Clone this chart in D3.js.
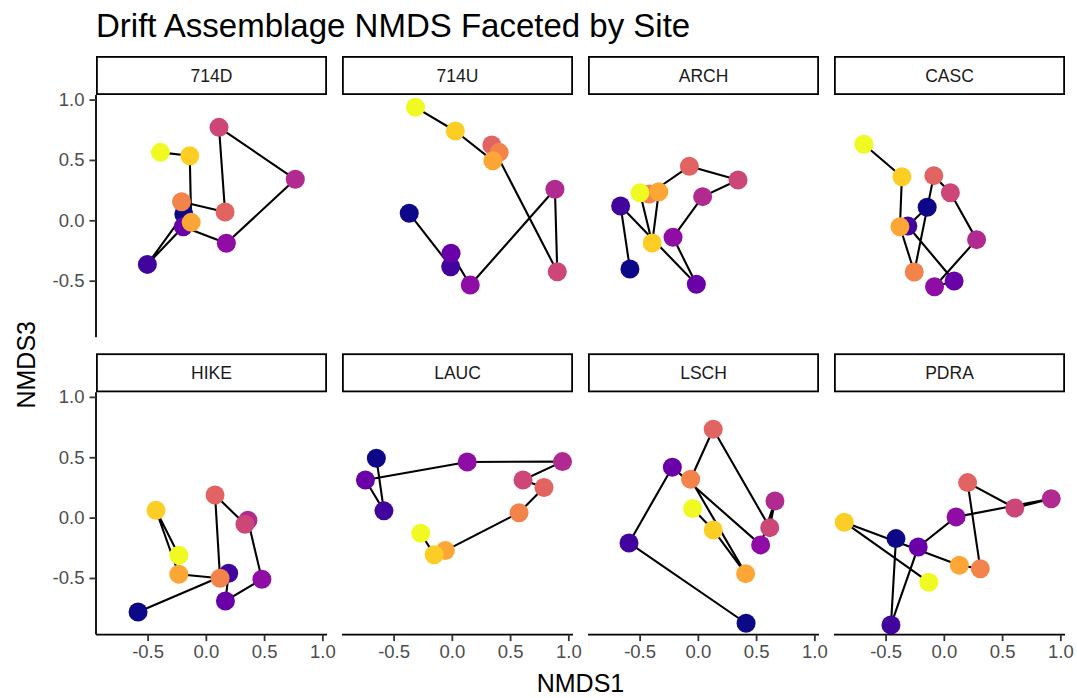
<!DOCTYPE html>
<html>
<head>
<meta charset="utf-8">
<script src="https://cdn.jsdelivr.net/npm/d3@7"></script>
<style>
  html, body { margin: 0; padding: 0; background: #fff; }
  svg { display: block; font-family: "Liberation Sans", Arial, Helvetica, sans-serif; }
</style>
</head>
<body>
<svg id="chart" width="1077" height="698"></svg>
<script>
// Sites, in facet order (row-wise, 4 columns)
const sites = ["714D", "714U", "ARCH", "CASC", "HIKE", "LAUC", "LSCH", "PDRA"];

// Sampling events 1..11, in time order (used for colour and path order)
const samples = [1, 2, 3, 4, 5, 6, 7, 8, 9, 10, 11];

// NMDS axis 1 scores per site, one value per sampling event
const nmds1 = [
  [-0.189, -0.502, -0.194, 0.176, 0.768, 0.113, 0.165, -0.209, -0.126, -0.138, -0.390],
  [-0.366, -0.010, -0.007, 0.158, 0.885, 0.905, 0.343, 0.406, 0.352, 0.030, -0.312],
  [-0.583, -0.663, -0.013, -0.213, 0.041, 0.345, -0.073, -0.418, -0.335, -0.392, -0.497],
  [-0.143, -0.309, 0.088, -0.080, 0.281, 0.056, -0.086, -0.254, -0.377, -0.360, -0.687],
  [-0.582, 0.196, 0.168, 0.481, 0.361, 0.336, 0.079, 0.122, -0.232, -0.428, -0.232],
  [-0.648, -0.583, -0.742, 0.132, 0.950, 0.611, 0.791, 0.577, -0.056, -0.152, -0.267],
  [0.414, -0.591, -0.219, 0.539, 0.662, 0.617, 0.132, -0.062, 0.410, 0.132, -0.045],
  [-0.411, -0.454, -0.220, 0.105, 0.922, 0.609, 0.204, 0.313, 0.133, -0.855, -0.129]
];

// NMDS axis 3 scores per site, one value per sampling event
const nmds3 = [
  [0.052, -0.365, -0.053, -0.190, 0.340, 0.770, 0.069, 0.154, -0.017, 0.535, 0.563],
  [0.058, -0.384, -0.273, -0.536, 0.257, -0.426, 0.624, 0.563, 0.494, 0.740, 0.936],
  [-0.403, 0.118, -0.530, -0.141, 0.196, 0.334, 0.447, 0.218, 0.237, -0.188, 0.229],
  [0.108, -0.047, -0.503, -0.550, -0.160, 0.229, 0.370, -0.428, -0.053, 0.361, 0.630],
  [-0.782, -0.461, -0.690, -0.510, -0.022, -0.055, 0.188, -0.502, -0.469, 0.061, -0.312],
  [0.492, 0.056, 0.312, 0.461, 0.464, 0.312, 0.249, 0.041, -0.273, -0.307, -0.129],
  [-0.875, -0.210, 0.418, -0.226, 0.138, -0.083, 0.732, 0.318, -0.464, -0.102, 0.075],
  [-0.174, -0.889, -0.243, 0.006, 0.157, 0.080, 0.290, -0.423, -0.394, -0.038, -0.535]
];

// Tick values shared by all facets
const xTicks = [-0.5, 0.0, 0.5, 1.0];
const yTicks = [-0.5, 0.0, 0.5, 1.0];

// Layout
const ncol = 4;
const panelW = 231, panelH = 242.3, colStep = 246;
const stripH = 39, rowStep = 297.3;
const left0 = 96, stripTop0 = 56;
const pointR = 9.5;

const svg = d3.select("#chart");

const x = d3.scaleLinear().domain([-0.943, 1.04]).range([0, panelW]);
const y = d3.scaleLinear().domain([-0.969, 1.038]).range([panelH, 0]);
const colour = d3.scaleSequential(d3.interpolatePlasma)
  .domain(d3.extent(samples));
const fmt = d => d.toFixed(1);

// Title
svg.append("text")
  .attr("x", 96).attr("y", 37)
  .attr("font-size", 33).attr("fill", "#000")
  .text("Drift Assemblage NMDS Faceted by Site");

const nrow = Math.ceil(sites.length / ncol);

sites.forEach((site, i) => {
  const col = i % ncol, row = Math.floor(i / ncol);
  const px = left0 + col * colStep;
  const sy = stripTop0 + row * rowStep;
  const py = sy + stripH;

  // Strip
  const strip = svg.append("g").attr("transform", `translate(${px},${sy})`);
  strip.append("rect")
    .attr("x", 0.9).attr("y", 0.9)
    .attr("width", panelW - 1.8).attr("height", stripH - 1.8)
    .attr("fill", "#fff").attr("stroke", "#000").attr("stroke-width", 1.8);
  strip.append("text")
    .attr("x", panelW / 2).attr("y", stripH / 2)
    .attr("text-anchor", "middle").attr("dominant-baseline", "central")
    .attr("font-size", 17.5).attr("fill", "#1a1a1a")
    .text(site);

  const g = svg.append("g").attr("transform", `translate(${px},${py})`);

  // Axes: y on the first column, x on the bottom row
  if (col === 0) {
    const ay = g.append("g").call(
      d3.axisLeft(y).tickValues(yTicks).tickFormat(fmt).tickSize(6.5).tickPadding(5)
    );
    ay.select(".domain").attr("stroke", "#000").attr("stroke-width", 1.8)
      .attr("d", `M0,0V${panelH}`);
    ay.selectAll(".tick line").attr("stroke", "#333").attr("stroke-width", 1.8);
    ay.selectAll(".tick text").attr("font-size", 18.5).attr("fill", "#4d4d4d")
      .attr("font-family", "Liberation Sans, Arial, sans-serif");
  }
  if (row === nrow - 1) {
    const ax = g.append("g").attr("transform", `translate(0,${panelH})`).call(
      d3.axisBottom(x).tickValues(xTicks).tickFormat(fmt).tickSize(6.5).tickPadding(4)
    );
    ax.select(".domain").attr("stroke", "#000").attr("stroke-width", 1.8)
      .attr("d", `M0,0H${panelW}`);
    ax.selectAll(".tick line").attr("stroke", "#333").attr("stroke-width", 1.8);
    ax.selectAll(".tick text").attr("font-size", 18.5).attr("fill", "#4d4d4d")
      .attr("font-family", "Liberation Sans, Arial, sans-serif");
  }

  const pts = samples.map((s, k) => ({ s, a: nmds1[i][k], b: nmds3[i][k] }));

  // Trajectory through time
  g.append("path")
    .datum(pts)
    .attr("fill", "none").attr("stroke", "#000").attr("stroke-width", 2.1)
    .attr("stroke-linejoin", "round")
    .attr("d", d3.line().x(d => x(d.a)).y(d => y(d.b)));

  // Sampling points coloured by time
  g.selectAll("circle")
    .data(pts)
    .join("circle")
    .attr("cx", d => x(d.a)).attr("cy", d => y(d.b))
    .attr("r", pointR)
    .attr("fill", d => colour(d.s));
});

// Axis titles
svg.append("text")
  .attr("x", left0 + (colStep * (ncol - 1) + panelW) / 2).attr("y", 692)
  .attr("text-anchor", "middle").attr("font-size", 25).attr("fill", "#000")
  .text("NMDS1");

const yMid = stripTop0 + stripH + (rowStep + panelH) / 2;
svg.append("text")
  .attr("transform", `translate(35,${yMid}) rotate(-90)`)
  .attr("text-anchor", "middle").attr("font-size", 25).attr("fill", "#000")
  .text("NMDS3");
</script>
</body>
</html>
